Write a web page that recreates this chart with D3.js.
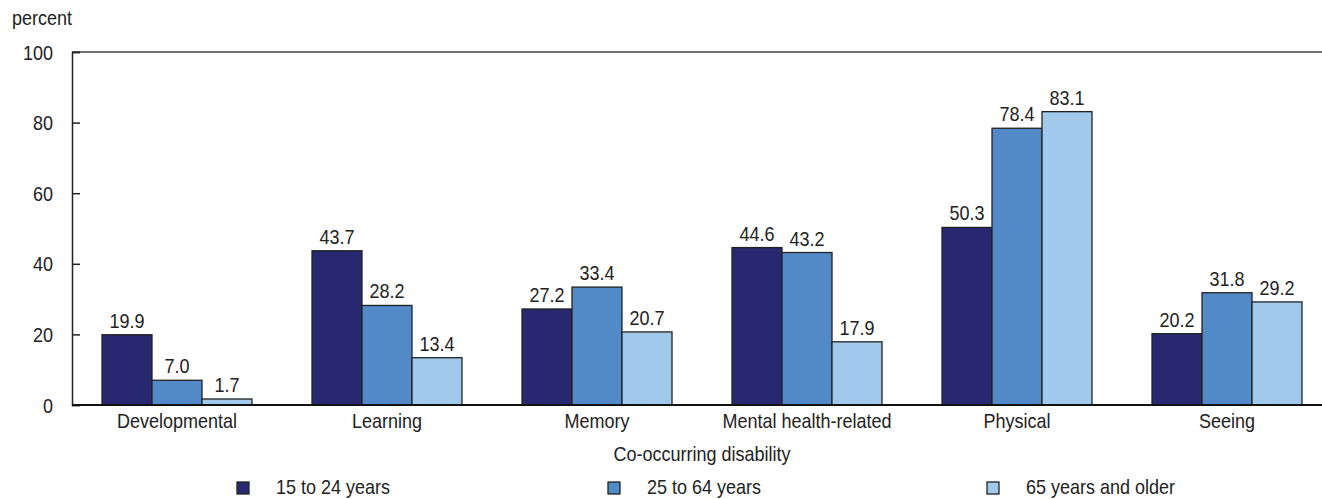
<!DOCTYPE html>
<html>
<head>
<meta charset="utf-8">
<script src="https://cdn.jsdelivr.net/npm/d3@7"></script>
<style>
  html, body { margin: 0; padding: 0; background: #fff; }
  svg { display: block; }
  text { font-family: "Liberation Sans Narrow", "Arial Narrow", "Liberation Sans", sans-serif; fill: #222; }
</style>
</head>
<body>
<svg id="chart" width="1322" height="499"></svg>
<script>
// Co-occurring disability by age group (percent)
const categories = ["Developmental", "Learning", "Memory", "Mental health-related", "Physical", "Seeing"];
const seriesNames = ["15 to 24 years", "25 to 64 years", "65 years and older"];
const age15to24 = [19.9, 43.7, 27.2, 44.6, 50.3, 20.2];
const age25to64 = [7.0, 28.2, 33.4, 43.2, 78.4, 31.8];
const age65plus = [1.7, 13.4, 20.7, 17.9, 83.1, 29.2];
const yTicks = [0, 20, 40, 60, 80, 100];
const colors = ["#27286f", "#528ac7", "#a0c9eb"];

const seriesValues = [age15to24, age25to64, age65plus];

const svg = d3.select("#chart");
const margin = { left: 72, top: 52, right: 1332, bottom: 405 };
const FONT = 20;      // condensed look: taller glyphs squeezed horizontally
const SQUEEZE = 0.9;

// place a horizontally condensed text label
function label(parent, x, y, str, anchor) {
  return parent.append("text")
    .attr("transform", `translate(${x},${y}) scale(${SQUEEZE},1)`)
    .attr("text-anchor", anchor || "start")
    .style("font-size", FONT + "px")
    .text(str);
}

const x = d3.scaleBand().domain(categories).range([margin.left, margin.right]).paddingInner(0).paddingOuter(0);
const xInner = d3.scaleBand().domain(d3.range(3)).range([0, x.bandwidth()]).paddingInner(0).paddingOuter(0.6);
const y = d3.scaleLinear().domain([0, 100]).range([margin.bottom, margin.top]);

// Frame top line
svg.append("line")
  .attr("x1", margin.left).attr("x2", margin.right)
  .attr("y1", y(100)).attr("y2", y(100))
  .attr("stroke", "#444").attr("stroke-width", 1.5);

// Y axis with inward ticks
const yAxis = svg.append("g")
  .attr("transform", `translate(${margin.left},0)`)
  .call(d3.axisLeft(y).tickValues(yTicks).tickSize(-8).tickFormat(d3.format("d")));
yAxis.select(".domain").attr("stroke", "#222").attr("stroke-width", 1.5);
yAxis.selectAll(".tick line").attr("stroke", "#222").attr("stroke-width", 1.5);
yAxis.selectAll(".tick text").remove();
yAxis.selectAll(".tick").each(function (d) {
  label(d3.select(this), -19, 7, d3.format("d")(d), "end");
});

label(svg, 12, 25, "percent");

// Bars
const groups = svg.append("g").selectAll("g")
  .data(categories).join("g")
  .attr("transform", d => `translate(${x(d)},0)`);

const cells = (d, i) => seriesValues.map((s, k) => ({ k, v: s[i] }));

groups.selectAll("rect")
  .data(cells)
  .join("rect")
  .attr("x", d => xInner(d.k))
  .attr("width", xInner.bandwidth())
  .attr("y", d => y(d.v))
  .attr("height", d => y(0) - y(d.v))
  .attr("fill", d => colors[d.k])
  .attr("stroke", "#222")
  .attr("stroke-width", 1.3);

groups.each(function (c, i) {
  const g = d3.select(this);
  cells(c, i).forEach(d => {
    label(g, xInner(d.k) + xInner.bandwidth() / 2, y(d.v) - 7, d3.format(".1f")(d.v), "middle");
  });
});

// X baseline
svg.append("line")
  .attr("x1", margin.left).attr("x2", margin.right)
  .attr("y1", y(0)).attr("y2", y(0))
  .attr("stroke", "#111").attr("stroke-width", 2);

// Category labels
categories.forEach(c => label(svg, x(c) + x.bandwidth() / 2, 428, c, "middle"));

label(svg, 702, 461, "Co-occurring disability", "middle");

// Legend
const legendX = [237, 608, 987];
seriesNames.forEach((name, i) => {
  const g = svg.append("g").attr("transform", `translate(${legendX[i]},482)`);
  g.append("rect")
    .attr("width", 12).attr("height", 12)
    .attr("fill", colors[i])
    .attr("stroke", "#222").attr("stroke-width", 1.3);
  label(g, 39, 12, name);
});
</script>
</body>
</html>
